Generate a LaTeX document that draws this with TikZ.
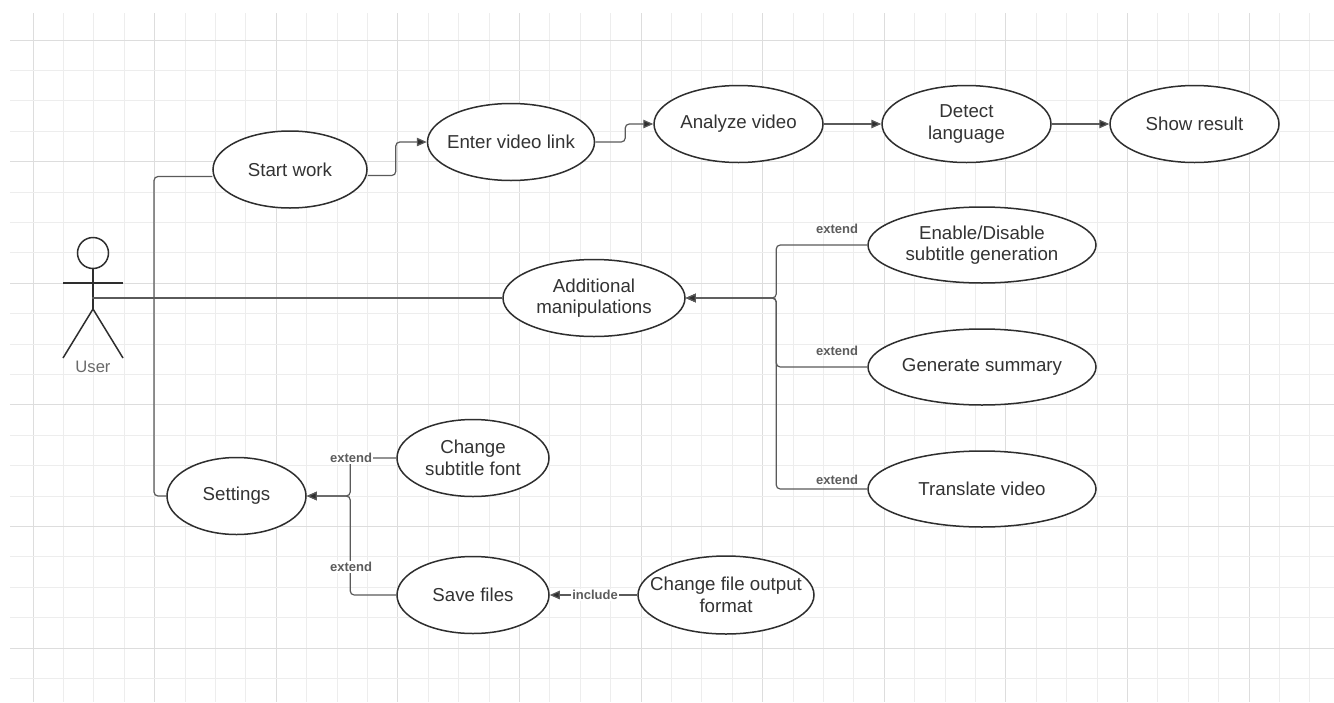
\documentclass[tikz,border=0pt]{standalone}
\usepackage{fontspec}
\setmainfont{Liberation Sans}
\usetikzlibrary{shapes.geometric, arrows.meta, calc}

\definecolor{ink}{HTML}{2E2E2E}
\definecolor{wirec}{HTML}{5A5A5A}
\definecolor{txt}{HTML}{333333}
\definecolor{gridminor}{HTML}{EDEDED}
\definecolor{gridmajor}{HTML}{DDDDDD}
\definecolor{tagc}{HTML}{5C5C5C}
\definecolor{usr}{HTML}{6A6A6A}

\begin{document}
\begin{tikzpicture}[x=1pt, y=-1pt,
  uc/.style 2 args={ellipse, draw=ink, line width=1.5pt, fill=white,
    minimum width=#1, minimum height=#2, inner xsep=-30pt, inner ysep=0pt,
    align=center, text=txt, font=\fontsize{18.7}{21.5}\selectfont},
  wire/.style={draw=wirec, line width=1.2pt, rounded corners=4pt},
  arr/.style={wire, -{Triangle[length=10pt, width=8.5pt, fill=ink]}},
  tag/.style={font=\bfseries\fontsize{13}{15}\selectfont, text=tagc, inner sep=1.5pt},
  tagbg/.style={tag, fill=white},
  stick/.style={draw=ink, line width=1.5pt}
]
% canvas and grid
\useasboundingbox (0,0) rectangle (1334,702);
\fill[white] (0,0) rectangle (1334,702);
\begin{scope}
  \clip (10,13) rectangle (1334,702);
  \foreach \k in {0,...,43}{
    \pgfmathsetmacro\xx{33+30.4*\k}
    \pgfmathtruncatemacro\m{mod(\k,4)}
    \ifnum\m=0
      \draw[gridmajor, line width=1pt] (\xx,13) -- (\xx,702);
    \else
      \draw[gridminor, line width=1pt] (\xx,13) -- (\xx,702);
    \fi
  }
  \foreach \j in {0,...,21}{
    \pgfmathsetmacro\yy{40+30.4*\j}
    \pgfmathtruncatemacro\m{mod(\j,4)}
    \ifnum\m=0
      \draw[gridmajor, line width=1pt] (10,\yy) -- (1334,\yy);
    \else
      \draw[gridminor, line width=1pt] (10,\yy) -- (1334,\yy);
    \fi
  }
\end{scope}

% actor
\node[circle, stick, minimum size=31pt, inner sep=0pt] (head) at (93,253) {};
\coordinate (neck) at (93,268);
\coordinate (hip) at (93,309);
\coordinate (lhand) at (63,283);
\coordinate (rhand) at (123,283);
\coordinate (lfoot) at (63,358);
\coordinate (rfoot) at (123,358);
\draw[stick] (neck) -- (hip);
\draw[stick] (lhand) -- (rhand);
\draw[stick] (lfoot) -- (hip) -- (rfoot);
\node[text=usr, font=\fontsize{16.6}{19}\selectfont] (user) at (93,367) {User};
\coordinate (hand) at (92,298);
\coordinate (hub) at (154,298);

% use cases
\node[uc={154}{77}] (sw)  at (290,169.5) {Start work};
\node[uc={167}{77}] (evl) at (511,142) {Enter video link};
\node[uc={169}{77}] (av)  at (738.5,124) {Analyze video};
\node[uc={169}{77}] (dl)  at (966.5,124) {Detect\\language};
\node[uc={169}{77}] (sr)  at (1194.5,124) {Show result};
\node[uc={182}{77}] (am)  at (594,298) {Additional\\manipulations};
\node[uc={228}{76}] (ed)  at (982,245) {Enable/Disable\\subtitle generation};
\node[uc={228}{76}] (gs)  at (982,367) {Generate summary};
\node[uc={228}{76}] (tv)  at (982,489) {Translate video};
\node[uc={139}{77}] (set) at (236.5,496) {Settings};
\node[uc={152}{77}] (csf) at (473,458) {Change\\subtitle font};
\node[uc={152}{77}] (sf)  at (473,595) {Save files};
\node[uc={176}{78}] (cfo) at (726,595) {Change file output\\format};

% associations of the actor
\draw[wire] (hand) -- (am.west);
\draw[wire] (hub) |- ([yshift=-7pt]sw.west);
\draw[wire] (hub) |- (set.west);

% main flow
\draw[arr] ([yshift=-6pt]sw.east) -- ++(28,0) |- (evl.west);
\draw[arr] (evl.east) -- ++(30,0) |- (av.west);
\draw[arr] (av.east) -- (dl.west);
\draw[arr] (dl.east) -- (sr.west);

% extensions of additional manipulations
\draw[arr] (ed.west) -- ++(-91,0) |- (am.east);
\draw[arr] (gs.west) -- ++(-91,0) |- (am.east);
\draw[arr] (tv.west) -- ++(-91,0) |- (am.east);
\node[tag] (x1) at (837,229) {extend};
\node[tag] (x2) at (837,351) {extend};
\node[tag] (x3) at (837,480) {extend};

% settings branch
\draw[arr] (csf.west) -- ++(-46,0) |- (set.east);
\draw[arr] (sf.west) -- ++(-46,0) |- (set.east);
\node[tagbg] (x4) at (351,458) {extend};
\node[tagbg] (x5) at (351,567) {extend};
\draw[arr] (cfo.west) -- (sf.east);
\node[tagbg] (x6) at (595,595) {include};
\end{tikzpicture}
\end{document}
